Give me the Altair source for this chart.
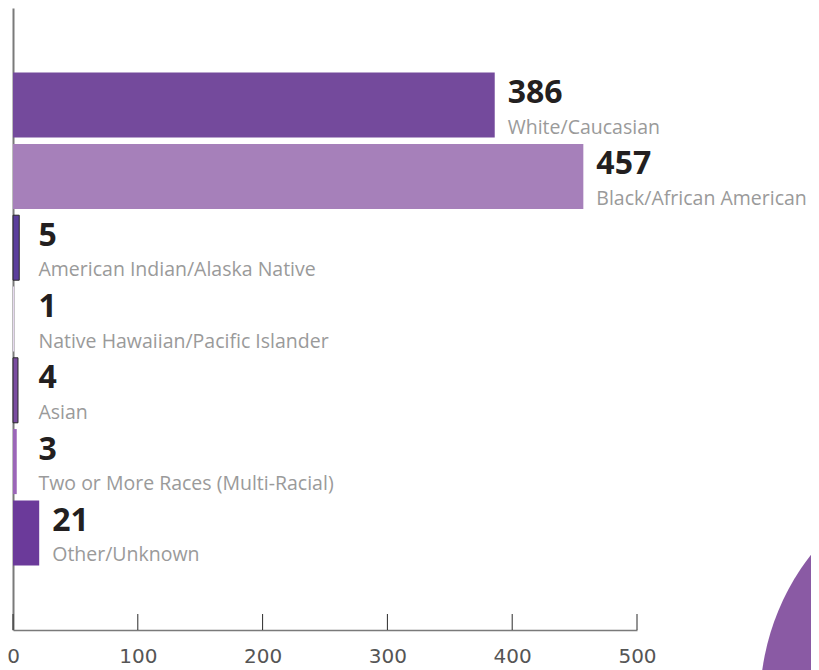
import altair as alt
import pandas as pd

categories = [
    "White/Caucasian",
    "Black/African American",
    "American Indian/Alaska Native",
    "Native Hawaiian/Pacific Islander",
    "Asian",
    "Two or More Races (Multi-Racial)",
    "Other/Unknown",
]
values = [386, 457, 5, 1, 4, 3, 21]
bar_colors = ["#744a9c", "#a680ba", "#5b3e9c", "#e6d9ef", "#7a4da0", "#9b66b8", "#6b3a9a"]
outlined = ["American Indian/Alaska Native", "Asian"]
tick_values = [0, 100, 200, 300, 400, 500]

df = pd.DataFrame({"category": categories, "value": values})
ticks_df = pd.DataFrame({"tick": tick_values})
deco_df = pd.DataFrame({"d": [0]})

W, H = 624, 622

xscale = alt.Scale(domain=[0, 500], nice=False)
yscale = alt.Scale(domain=categories, paddingInner=0.088, paddingOuter=0.906)

base = alt.Chart(df)

bars = base.mark_bar().encode(
    x=alt.X("value:Q", scale=xscale,
            axis=alt.Axis(values=tick_values, title=None, grid=False, ticks=False, tickSize=0,
                          domainColor="#7a7a7a", domainWidth=1.5,
                          labelFont="DejaVu Sans", labelFontSize=20, labelColor="#555555",
                          labelBaseline="middle", labelPadding=26, labelFlush=False)),
    y=alt.Y("category:N", scale=yscale, sort=categories,
            axis=alt.Axis(title=None, labels=False, ticks=False, grid=False,
                          domainColor="#7a7a7a", domainWidth=2)),
    color=alt.Color("category:N", scale=alt.Scale(domain=categories, range=bar_colors), legend=None),
    stroke=alt.condition(alt.FieldOneOfPredicate(field="category", oneOf=outlined),
                         alt.value("#2a2a2a"), alt.value(None)),
    strokeWidth=alt.value(1),
)

num_text = base.transform_calculate(lx="max(datum.value, 10)").mark_text(
    align="left", baseline="alphabetic", dx=13, dy=-2,
    font="Open Sans", fontWeight="bold", fontSize=32, color="#231f20",
).encode(
    x=alt.X("lx:Q", scale=xscale),
    y=alt.Y("category:N", scale=yscale, sort=categories),
    text=alt.Text("value:Q"),
)

cat_text = base.transform_calculate(lx="max(datum.value, 10)").mark_text(
    align="left", baseline="alphabetic", dx=13, dy=28.5,
    font="Open Sans", fontSize=19.5, color="#9a9a9a",
).encode(
    x=alt.X("lx:Q", scale=xscale),
    y=alt.Y("category:N", scale=yscale, sort=categories),
    text=alt.Text("category:N"),
)

tick_rules = alt.Chart(ticks_df).mark_rule(color="#2a2a2a", strokeWidth=1).encode(
    x=alt.X("tick:Q", scale=xscale),
    y=alt.value(H - 16),
    y2=alt.value(H),
)

deco = alt.Chart(deco_df).mark_point(filled=True, shape="circle", opacity=1, color="#8a5aa4").encode(
    x=alt.value(988),
    y=alt.value(695),
    size=alt.value(232324),
)

chart = alt.layer(deco, bars, tick_rules, num_text, cat_text).properties(
    width=W, height=H,
    autosize=alt.AutoSizeParams(type="none"),
    padding={"left": 5, "top": 0, "right": 174, "bottom": 40},
).configure_view(stroke=None)

chart.save("out.html", embed_options={"renderer": "svg", "actions": False})
